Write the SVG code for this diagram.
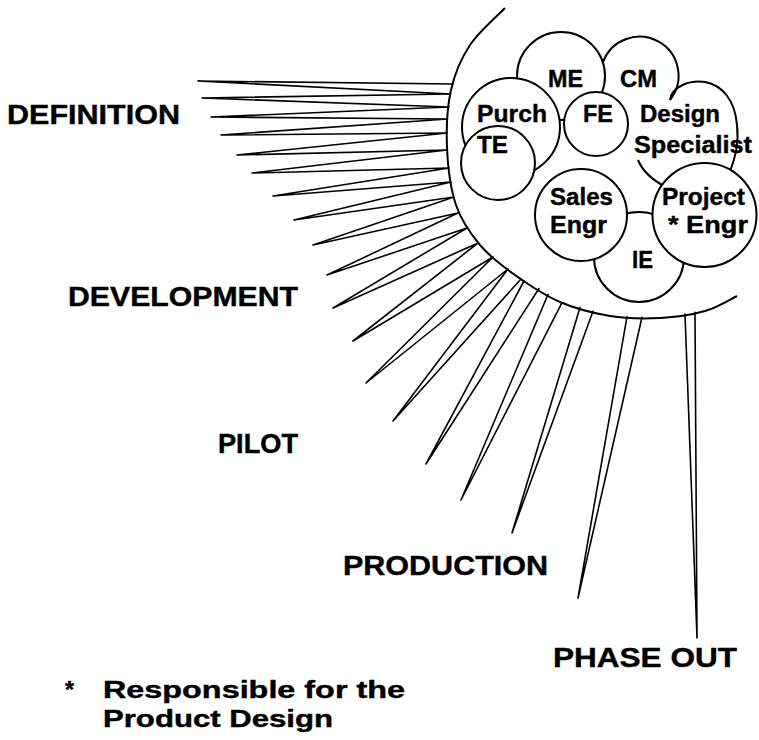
<svg xmlns="http://www.w3.org/2000/svg" width="759" height="740" viewBox="0 0 759 740">
  <style>
    .ring { fill: #fff; stroke: #000; stroke-width: 2; }
    .open { fill: none; stroke: #000; stroke-width: 2; }
    .ray { fill: none; stroke: #000; stroke-width: 1.6; stroke-linejoin: round; stroke-linecap: round; }
    .lbl { font-family: "Liberation Sans", Arial, Helvetica, sans-serif; font-weight: bold; fill: #000; stroke: #000; stroke-width: 0.4; }
    .in { font-size: 23.5px; }
    .phase { font-size: 27px; }
    .note { font-size: 23px; }
  </style>

  <rect width="759" height="740" fill="#fff"/>

  <!-- rays fanning out from the team boundary -->
  <g id="connectors">
    <polyline class="ray" points="453,84 198,81 450.5,94 202,98 449,107 211,117 447.5,119 221,135 447,133 237,155 447,150 252,173 449,168 273,196 451,182 294,220 454,197 313,245 458,213 327,275 467,228 333,308 478,243 353,341 493,257 366,383 508,269 393,421 521,279"/>
    <polyline class="ray" points="524,281 426,464 539,288.5"/>
    <polyline class="ray" points="548,294.5 461,500 562,302.6"/>
    <polyline class="ray" points="580,307.6 512,533 593,311.2"/>
    <polyline class="ray" points="627,316.7 578,598 642,317.3"/>
    <polyline class="ray" points="685,314 697,638 695,312.4"/>
  </g>

  <!-- outer boundary of the team -->
  <g id="boundary">
    <path class="open" stroke-width="2.2" d="M505,8 C499.2,14.2 479,31.3 470,45 C461,58.7 454.8,73 451,90 C447.2,107 446.2,127.8 447,147 C447.8,166.2 450.5,188.7 456,205 C461.5,221.3 470.2,233.3 480,245 C489.8,256.7 501.7,265.5 515,275 C528.3,284.5 544.2,295.2 560,302 C575.8,308.8 593.3,313.3 610,316 C626.7,318.7 644.2,318.8 660,318 C675.8,317.2 692.2,314.7 705,311 C717.8,307.3 731.7,298.5 737,296"/>
  </g>

  <!-- team members -->
  <g id="design-specialist">
    <path class="open" d="M670,100 C672,86 690,80 705,82 C722,85 735,100 737,125 C739,142 736,156 729,174"/>
    <path class="open" d="M638,160 C643,172 652,180 666,187"/>
    <text class="lbl in" x="640" y="122" textLength="80" lengthAdjust="spacingAndGlyphs">Design</text>
    <text class="lbl in" x="634" y="153" textLength="118" lengthAdjust="spacingAndGlyphs">Specialist</text>
  </g>

  <g id="cm">
    <path class="open" d="M603,62 A39,39 0 1,1 670,100"/>
    <text class="lbl in" x="620" y="87" textLength="37" lengthAdjust="spacingAndGlyphs">CM</text>
  </g>

  <g id="me">
    <circle class="ring" cx="561" cy="76" r="44"/>
    <text class="lbl in" x="548" y="87" textLength="35" lengthAdjust="spacingAndGlyphs">ME</text>
  </g>

  <g id="purch">
    <circle class="ring" cx="511" cy="127" r="49"/>
    <text class="lbl in" x="477" y="122" textLength="70" lengthAdjust="spacingAndGlyphs">Purch</text>
  </g>

  <g id="te">
    <circle class="ring" cx="498" cy="163" r="37"/>
    <text class="lbl in" x="477" y="153" textLength="31" lengthAdjust="spacingAndGlyphs">TE</text>
  </g>

  <g id="fe">
    <circle class="ring" cx="596" cy="124" r="32"/>
    <text class="lbl in" x="583" y="122" textLength="30" lengthAdjust="spacingAndGlyphs">FE</text>
  </g>

  <g id="ie">
    <circle class="ring" cx="639" cy="257" r="45"/>
    <text class="lbl in" x="632" y="268" textLength="21" lengthAdjust="spacingAndGlyphs">IE</text>
  </g>

  <g id="sales-engr">
    <circle class="ring" cx="581" cy="215" r="46"/>
    <text class="lbl in" x="550" y="205" textLength="63" lengthAdjust="spacingAndGlyphs">Sales</text>
    <text class="lbl in" x="550" y="233" textLength="57" lengthAdjust="spacingAndGlyphs">Engr</text>
  </g>

  <g id="project-engr">
    <circle class="ring" cx="704.5" cy="215" r="52"/>
    <text class="lbl in" x="662" y="205" textLength="83" lengthAdjust="spacingAndGlyphs">Project</text>
    <text class="lbl in" x="668" y="233" textLength="80" lengthAdjust="spacingAndGlyphs">* Engr</text>
  </g>

  <!-- project phases -->
  <g id="phase-definition">
    <text class="lbl phase" x="7" y="124" textLength="173" lengthAdjust="spacingAndGlyphs">DEFINITION</text>
  </g>
  <g id="phase-development">
    <text class="lbl phase" x="68" y="306" textLength="230" lengthAdjust="spacingAndGlyphs">DEVELOPMENT</text>
  </g>
  <g id="phase-pilot">
    <text class="lbl phase" x="218" y="453" textLength="80" lengthAdjust="spacingAndGlyphs">PILOT</text>
  </g>
  <g id="phase-production">
    <text class="lbl phase" x="343" y="575" textLength="205" lengthAdjust="spacingAndGlyphs">PRODUCTION</text>
  </g>
  <g id="phase-out">
    <text class="lbl phase" x="553" y="667" textLength="184" lengthAdjust="spacingAndGlyphs">PHASE OUT</text>
  </g>

  <!-- footnote -->
  <g id="footnote">
    <text class="lbl note" y="698"><tspan x="65">*</tspan><tspan x="103" textLength="302" lengthAdjust="spacingAndGlyphs">Responsible for the</tspan></text>
    <text class="lbl note" x="103" y="727" textLength="230" lengthAdjust="spacingAndGlyphs">Product Design</text>
  </g>
</svg>
